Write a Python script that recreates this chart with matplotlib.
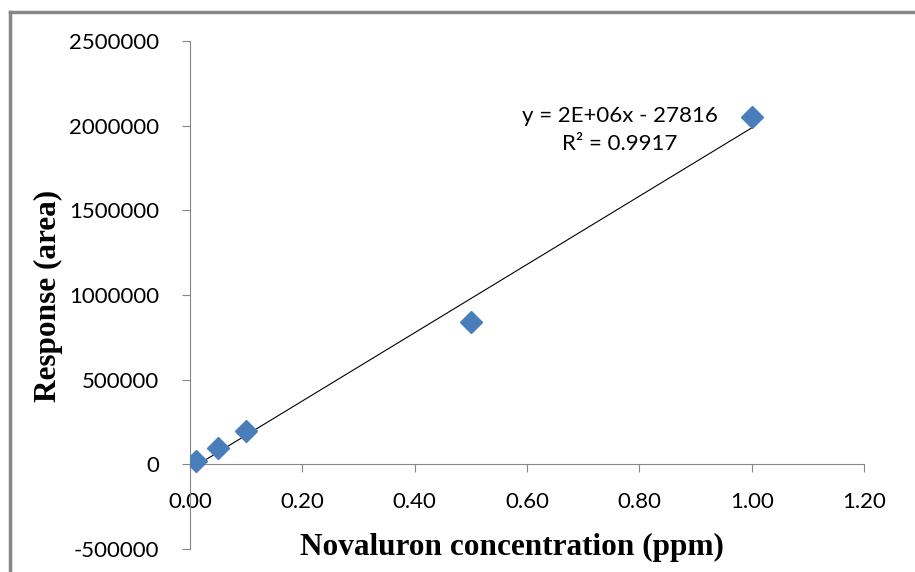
import numpy as np
import matplotlib
matplotlib.use("Agg")
import matplotlib.pyplot as plt
from matplotlib.lines import Line2D

# calibration points
conc = [0.01, 0.05, 0.10, 0.50, 1.00]
area = [18000, 95000, 195000, 841000, 2052000]

x_ticks = [0.0, 0.2, 0.4, 0.6, 0.8, 1.0, 1.2]
y_ticks = [-500000, 0, 500000, 1000000, 1500000, 2000000, 2500000]

tick_font = "Lato"
label_font = "Liberation Serif"
gray = "#868686"
blue = "#4a7ebb"

fig = plt.figure(figsize=(9.15, 5.72), dpi=100)
ax = fig.add_axes([190 / 915, 1 - 549 / 572, (864 - 190) / 915, (549 - 41) / 572])

ax.plot(conc, area, linestyle="none", marker="D", markersize=11.5,
        color=blue, markeredgecolor=blue, zorder=3)

# linear trendline over the data range
slope, icpt = np.polyfit(conc, area, 1)
xs = np.array([min(conc), max(conc)])
ax.plot(xs, slope * xs + icpt, color="black", linewidth=0.8, zorder=2)

ax.spines["top"].set_visible(False)
ax.spines["right"].set_visible(False)
ax.spines["bottom"].set_position(("data", 0))
ax.spines["bottom"].set_color(gray)
ax.spines["left"].set_color(gray)

ax.set_xlim(0, 1.2)
ax.set_ylim(-500000, 2500000)
ax.set_xticks(x_ticks)
ax.set_yticks(y_ticks)
ax.set_xticklabels(["%.2f" % v for v in x_ticks], fontfamily=tick_font, fontsize=16)
ax.set_yticklabels([str(v) for v in y_ticks], fontfamily=tick_font, fontsize=16)
ax.tick_params(axis="y", direction="out", length=6, color=gray, pad=16)
ax.tick_params(axis="x", direction="out", length=6, color=gray, pad=14)

fig.text(512 / 915, 1 - 547 / 572, "Novaluron concentration (ppm)",
         fontfamily=label_font, fontweight="bold", fontsize=22.5,
         ha="center", va="center")
fig.text(48 / 915, 1 - 296 / 572, "Response (area)", rotation=90,
         fontfamily=label_font, fontweight="bold", fontsize=22.5,
         ha="center", va="center")

ax.text(0.765, 1975000, "y = 2E+06x - 27816\nR² = 0.9917",
        fontfamily=tick_font, fontsize=16, ha="center", va="center",
        linespacing=1.55)

# outer chart border (top and left edges are visible)
fig.add_artist(Line2D([10 / 915, 1], [1 - 12 / 572, 1 - 12 / 572],
                      transform=fig.transFigure, color="#888888", linewidth=2.5))
fig.add_artist(Line2D([10 / 915, 10 / 915], [0, 1 - 12 / 572],
                      transform=fig.transFigure, color="#888888", linewidth=2.5))

fig.savefig("out.png", dpi=100, facecolor="white")
